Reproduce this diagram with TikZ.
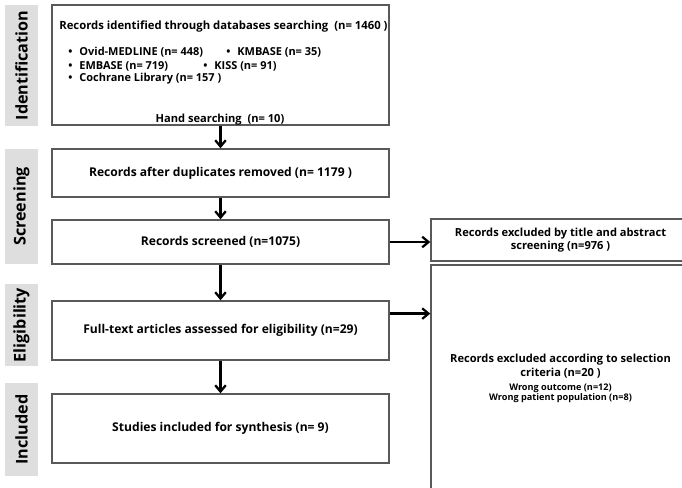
\documentclass[tikz,border=0pt]{standalone}
\usepackage{fontspec}
\setmainfont{Open Sans}
\usepackage{tikz}
\usetikzlibrary{arrows.meta,positioning,calc}

\begin{document}
\begin{tikzpicture}[
  x=0.025cm,
  y=-0.025cm,
  >={Straight Barb[length=4.5pt,width=7.5pt]},
  every node/.style={font=\bfseries\fontsize{8.6}{10}\selectfont},
  phase/.style={fill=black!13,minimum width=33*0.025cm,inner sep=0pt},
  phaselabel/.style={rotate=90,font=\bfseries\fontsize{11.5}{13}\selectfont},
  flowbox/.style={draw=black!65,line width=1pt,fill=white,
    minimum width=337*0.025cm,inner sep=0pt},
  exbox/.style={draw=black!65,line width=1pt,fill=white,
    minimum width=259*0.025cm,inner sep=0pt,align=center},
  flowarrow/.style={->,draw=black,line width=1.6pt},
  titletext/.style={font=\bfseries\fontsize{7.9}{9.6}\selectfont},
  dbitem/.style={anchor=west,inner sep=0pt,font=\bfseries\fontsize{7.8}{9}\selectfont},
  smallline/.style={font=\bfseries\fontsize{6.5}{7.6}\selectfont}
]
\useasboundingbox (0,0) rectangle (682,487);
\clip (0,0) rectangle (682,487);

% Phase bands on the left.
\node[phase,minimum height=121*0.025cm] (idband) at (21.5,65.5) {};
\node[phase,minimum height=115*0.025cm] (scrband) at (21.5,206.5) {};
\node[phase,minimum height=82*0.025cm] (eligband) at (21.5,325) {};
\node[phase,minimum height=93*0.025cm] (inclband) at (21.5,429.5) {};
\node[phaselabel] at (idband) {Identification};
\node[phaselabel] at (scrband) {Screening};
\node[phaselabel] at (eligband) {Eligibility};
\node[phaselabel] at (inclband) {Included};

% Main flow boxes.
\node[flowbox,minimum height=120*0.025cm] (ident) at (220.5,65) {};
\node[flowbox,minimum height=48*0.025cm] (dupl) at (220.5,173)
  {Records after duplicates removed (n= 1179 )};
\node[flowbox,minimum height=44*0.025cm] (screen) at (220.5,242)
  {Records screened (n=1075)};
\node[flowbox,minimum height=59*0.025cm] (fulltext) at (220.5,330.5)
  {Full-text articles assessed for eligibility (n=29)};
\node[flowbox,minimum height=69*0.025cm] (incl) at (220.5,428.5)
  {Studies included for synthesis (n= 9)};

% Contents of the identification box.
\node[anchor=west,inner sep=0pt,font=\bfseries\fontsize{8.05}{10}\selectfont] (dbtitle) at (59,27)
  {Records identified through databases searching~ (n= 1460 )};
\node[dbitem] (ovid) at (68,52) {\textbullet\hspace{5pt}Ovid-MEDLINE (n= 448)};
\node[dbitem] (kmbase) at (226,52) {\textbullet\hspace{5pt}KMBASE (n= 35)};
\node[dbitem] (embase) at (68,66) {\textbullet\hspace{5pt}EMBASE (n= 719)};
\node[dbitem] (kiss) at (203,66) {\textbullet\hspace{5pt}KISS (n= 91)};
\node[dbitem] (cochrane) at (68,79) {\textbullet\hspace{5pt}Cochrane Library (n= 157 )};
\node[titletext] (hand) at (220,120) {Hand searching~ (n= 10)};

% Exclusion boxes, cut by the right and bottom edges.
\node[exbox,titletext,minimum height=42*0.025cm] (excl1) at (560.5,240)
  {Records excluded by title and abstract\\screening (n=976 )};
\node[exbox,minimum height=224*0.025cm] (excl2) at (560.5,377) {};
\node[titletext,align=center] (excl2text) at (560.5,366)
  {Records excluded according to selection\\criteria (n=20 )};
\node[smallline,below=-3pt of excl2text,align=center] (reasons)
  {Wrong outcome (n=12)\\Wrong patient population (n=8)};

% Arrows.
\draw[flowarrow] (ident.south -| dupl.north) -- (dupl.north);
\draw[flowarrow] (dupl.south) -- (screen.north);
\draw[flowarrow] (screen.south) -- (fulltext.north);
\draw[flowarrow] (fulltext.south) -- (incl.north);
\draw[flowarrow] (screen.east) -- (screen.east -| excl1.west);
\coordinate (eligout) at ($(fulltext.north east)!0.22!(fulltext.south east)$);
\draw[flowarrow] (eligout) -- (eligout -| excl2.west);

\end{tikzpicture}
\end{document}
